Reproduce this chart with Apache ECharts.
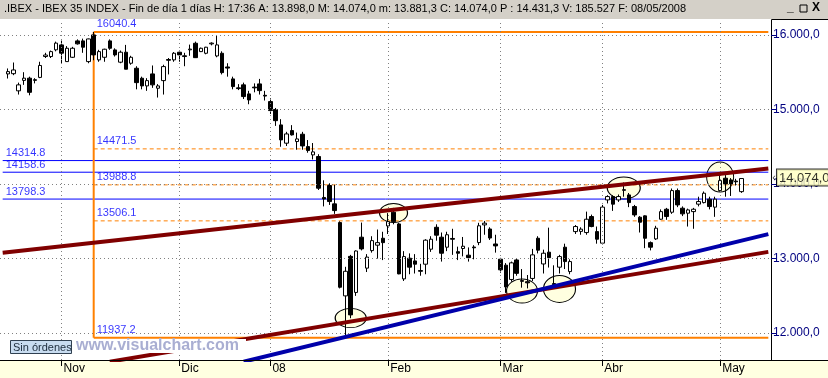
<!DOCTYPE html>
<html>
<head>
<meta charset="utf-8">
<script src="https://cdn.jsdelivr.net/npm/echarts@6/dist/echarts.min.js"></script>
<style>
html,body{margin:0;padding:0;background:#fff;}
#main{width:828px;height:378px;}
</style>
</head>
<body>
<div id="main"></div>
<script>
// IBEX 35, velas diarias 18/10/2007 - 08/05/2008
var opens = [15477,15480,15250,15390,15420,15390,15430,15710,15710,15800,
  15866,15642,15700,15920,15920,15642,16000,15665,15700,15920,
  15799,15634,15768,15620,15553,15419,15316,15477,15285,15387,
  15670,15665,15768,15720,15800,15888,15776,15754,15880,15718,
  15754,15570,15410,15290,15330,15209,15300,15343,15190,15106,
  15000,14793,14548,14717,14570,14668,14502,14391,14369,13820,
  13980,13734,13483,12500,13030,12546,13287,12872,13107,13180,
  13273,13438,13622,13465,12728,13005,12969,12840,12925,13126,
  13420,13287,13153,13270,13093,13135,13046,13155,13215,13452,
  13397,13196,12992,12912,12720,12982,12705,12690,12734,13273,
  12928,13086,12665,12885,13153,12826,13362,13365,13349,13564,
  13362,13207,13787,13832,13787,13915,13854,13698,13555,13573,
  13214,13264,13528,13662,13622,13912,13676,13609,13630,13730,
  13751,13797,13690,13912,14078,14055,14040,13898];
var closes = [15508,15530,15330,15420,15230,15400,15590,15730,15776,15890,
  15755,15821,15821,15880,15835,15946,15732,15776,15808,15821,
  15732,15768,15540,15700,15360,15316,15387,15330,15316,15575,
  15660,15754,15732,15710,15810,15695,15821,15835,15890,15866,
  15494,15555,15307,15280,15173,15128,15290,15253,15180,14985,
  14850,14592,14672,14659,14605,14511,14449,14431,13944,13800,
  13765,13644,12616,12830,12245,13102,13130,13020,13241,13214,
  13214,13496,13496,12795,13027,12885,12925,12830,13247,13260,
  13314,13072,13320,13260,13072,13166,13013,13145,13440,13475,
  13276,13170,12849,12620,12943,12802,12695,12675,13050,13113,
  13072,13013,12650,13027,12960,12960,13430,13395,13528,13430,
  13260,13690,13832,13730,13832,13925,13751,13586,13488,13273,
  13153,13408,13630,13564,13912,13720,13600,13653,13662,13765,
  13877,13698,13797,14046,14002,14002,14030,14074];
var lows = [15415,15460,15200,15330,15190,15350,15420,15690,15690,15780,
  15620,15640,15690,15870,15760,15620,15660,15640,15640,15800,
  15710,15620,15540,15600,15270,15270,15250,15290,15160,15200,
  15470,15640,15640,15580,15720,15690,15770,15740,15860,15700,
  15470,15440,15270,15260,15140,15070,15230,15200,15120,14940,
  14780,14500,14510,14650,14460,14460,14420,14330,13920,13700,
  13720,13600,12600,11937.2,12200,12500,13110,12820,13080,13000,
  12980,13330,13460,12790,12700,12790,12800,12770,12790,13090,
  13240,12960,13100,13050,12980,13030,12960,12990,13180,13320,
  13250,13080,12810,12540,12690,12770,12610,12600,12700,13070,
  12800,12880,12620,12800,12860,12790,13330,13320,13320,13420,
  13200,13190,13740,13640,13760,13830,13690,13560,13350,13140,
  13110,13250,13520,13520,13600,13690,13570,13430,13400,13700,
  13740,13660,13560,13900,13830,13840,13980,13881.3];
var highs = [15550,15630,15360,15500,15440,15420,15640,15760,15790,15910,
  15924,15850,15840,15940,15950,15950,16040.4,15800,15815,15940,
  15820,15790,15866,15720,15580,15440,15420,15590,15340,15600,
  15690,15770,15790,15760,15870,15910,15830,15840,15900,15990,
  15780,15620,15440,15340,15360,15250,15350,15410,15250,15150,
  15020,14870,14700,14790,14690,14700,14590,14550,14400,14050,
  14010,13990,13500,12890,13050,13110,13483,13060,13300,13390,
  13360,13610,13680,13480,13100,13070,13060,12930,13260,13300,
  13460,13350,13360,13400,13160,13290,13150,13180,13480,13505,
  13420,13320,13010,12940,12960,13000,12860,12780,13130,13300,
  13120,13415,12910,13050,13200,12990,13450,13420,13630,13590,
  13430,13720,13850,13850,13860,14020,13880,13720,13570,13580,
  13230,13440,13660,13680,13940,13940,13700,13670,13680,13830,
  13900,13830,13830,14150,14120,14080,14070,14074];

// primer dia de cada mes (indice de vela) y su rotulo
var monthBars = [10, 32, 49, 71, 92, 111, 133];
var monthLabels = ['Nov', 'Dic', '08', 'Feb', 'Mar', 'Abr', 'May'];
var yTicks = [12000, 13000, 14000, 15000, 16000];

// niveles horizontales
var blueLevels = [14314.8, 14158.6, 13798.3];
var fibLevels = [16040.4, 14471.5, 13988.8, 13506.1, 11937.2];
var fibBar = 16;

// lineas de tendencia [vela, precio]
var upperRed = [[-1, 13079], [142, 14208]];
var lowerRed = [[19, 11617], [142, 13090]];
var blueTrend = [[44, 11617], [142, 13328]];

// circulos de marca
var circleBars = [64, 72, 96, 103, 115, 133];
var circlePrices = [12204, 13612, 12566, 12593, 13947, 14095];

var lastPrice = 14074.0;

var FONT = 'Arial, "Liberation Sans", sans-serif';
var PAD_L = 1, PAD_R = 5;

function fmtEs(v) {
    var p = v.toFixed(1).split('.');
    return p[0].replace(/\B(?=(\d{3})+(?!\d))/g, '.') + ',' + p[1];
}
function cat(bar) { return bar + PAD_L; }

var nCat = PAD_L + opens.length + PAD_R;
var cats = [];
var candles = [];
for (var i = 0; i < nCat; i++) {
    cats.push(String(i));
    var b = i - PAD_L;
    if (b >= 0 && b < opens.length) {
        candles.push([opens[b], closes[b], lows[b], highs[b]]);
    } else {
        candles.push('-');
    }
}
var lastCat = nCat - 1;
var monthCats = monthBars.map(cat);

function tl(pts) {
    return pts.map(function (p) { return [cat(p[0]), p[1]]; });
}

var series = [];

// rejilla punteada
series.push({
    type: 'line', data: [], z: 1, silent: true,
    markLine: {
        silent: true, symbol: ['none', 'none'], animation: false,
        label: {show: false},
        lineStyle: {color: '#808080', type: [1, 3], width: 1},
        data: monthCats.map(function (c) { return {xAxis: String(c)}; })
            .concat(yTicks.map(function (v) { return {yAxis: v}; }))
    }
});

// circulos
var circleSizes = [[31, 19], [28, 19], [31, 24], [32, 27], [33, 22], [27, 30]];
series.push({
    type: 'scatter', z: 2, silent: true,
    symbol: 'circle',
    data: circleBars.map(function (b, k) {
        return {value: [cat(b), circlePrices[k]], symbolSize: circleSizes[k]};
    }),
    itemStyle: {color: '#ffffe0', borderColor: '#000', borderWidth: 1, opacity: 1}
});

// niveles azules
blueLevels.forEach(function (v) {
    series.push({
        type: 'line', z: 3, silent: true, symbol: 'none',
        data: [[0, v], [lastCat, v]],
        lineStyle: {color: '#0000ff', width: 1}
    });
});

// fibonacci
fibLevels.forEach(function (v, k) {
    var solid = (k === 0 || k === fibLevels.length - 1);
    series.push({
        type: 'line', z: 3, silent: true, symbol: 'none',
        data: [[cat(fibBar), v], [lastCat, v]],
        lineStyle: {color: '#ff8000', width: solid ? 2 : 1, type: solid ? 'solid' : [4, 3]}
    });
});
series.push({
    type: 'line', z: 3, silent: true, symbol: 'none',
    data: [[cat(fibBar), fibLevels[0]], [cat(fibBar), fibLevels[fibLevels.length - 1]]],
    lineStyle: {color: '#ff8000', width: 2}
});

// rotulos de niveles
var lvlLabels = blueLevels.map(function (v) { return [0, v]; })
    .concat(fibLevels.map(function (v) { return [cat(fibBar), v]; }));
series.push({
    type: 'scatter', z: 6, silent: true, symbolSize: 0,
    data: lvlLabels,
    label: {
        show: true, position: [3, -13],
        formatter: function (p) { return p.value[1].toFixed(1); },
        color: '#0000ff', fontSize: 11, fontFamily: FONT
    }
});

// velas
series.push({
    type: 'candlestick', z: 4, barWidth: 4,
    data: candles,
    itemStyle: {
        color: '#ffffff', color0: '#000000',
        borderColor: '#000000', borderColor0: '#000000', borderWidth: 1
    }
});

// lineas de tendencia
[[upperRed, '#800000'], [lowerRed, '#800000'], [blueTrend, '#0000aa']].forEach(function (t) {
    series.push({
        type: 'line', z: 5, silent: true, symbol: 'none', clip: true,
        data: tl(t[0]),
        lineStyle: {color: t[1], width: 4}
    });
});

// etiqueta del ultimo precio
series.push({
    type: 'scatter', z: 10, silent: true, symbolSize: 0, clip: false,
    data: [[lastCat, lastPrice]],
    label: {
        show: true, position: [4, -9],
        formatter: '{a|\u2039}{b|' + fmtEs(lastPrice) + '}',
        rich: {
            a: {fontSize: 11, color: '#000', fontFamily: FONT, padding: [0, 1, 0, 0]},
            b: {fontSize: 13, color: '#000', fontFamily: FONT, backgroundColor: '#ffffc0',
                borderColor: '#000', borderWidth: 1, padding: [2, 2, 1, 2]}
        }
    }
});

var titleText = '{k|.IBEX - IBEX 35 INDEX - Fin de día 1 días H: }{v|17:36}{k| A: }{v|13.898,0}' +
    '{k| M: }{v|14.074,0}{k| m: }{v|13.881,3}{k| C: }{v|14.074,0}{r| P : 14.431,3}' +
    '{k| V: }{v|185.527}{k| F: }{v|08/05/2008}';

var myChart = echarts.init(document.getElementById('main'));
var option = {
    animation: false,
    backgroundColor: '#ffffff',
    grid: {left: 0, right: 57, top: 20, bottom: 18, containLabel: false, outerBoundsMode: 'none'},
    xAxis: {
        type: 'category', data: cats, boundaryGap: true,
        axisLine: {show: true, lineStyle: {color: '#000', width: 1}},
        axisTick: {
            show: true, alignWithLabel: true, length: 6,
            interval: function (idx) { return monthCats.indexOf(idx) >= 0; },
            lineStyle: {color: '#000'}
        },
        axisLabel: {
            interval: function (idx) { return monthCats.indexOf(idx) >= 0; },
            formatter: function (val, idx) {
                var k = monthCats.indexOf(Number(val));
                return k >= 0 ? monthLabels[k] : '';
            },
            align: 'left', margin: 3, padding: [0, 0, 0, 2],
            color: '#000', fontSize: 12, fontFamily: FONT
        },
        splitLine: {show: false}
    },
    yAxis: {
        type: 'value', position: 'right', min: 11640, max: 16200, scale: true,
        axisLine: {show: true, lineStyle: {color: '#000', width: 1}},
        axisTick: {show: true, length: 5, customValues: yTicks, lineStyle: {color: '#000080'}},
        axisLabel: {
            customValues: yTicks, margin: 2,
            formatter: function (v) { return fmtEs(v); },
            color: '#000080', fontSize: 12, fontFamily: FONT
        },
        splitLine: {show: false}
    },
    graphic: [
        {type: 'rect', z: -10, shape: {x: 0, y: 0, width: 828, height: 19}, style: {fill: '#d4d0c8'}},
        {type: 'rect', z: -10, shape: {x: 0, y: 360, width: 828, height: 18}, style: {fill: '#ffffe1'}},
        {type: 'line', z: 20, shape: {x1: 0, y1: 360.5, x2: 828, y2: 360.5}, style: {stroke: '#000', lineWidth: 1}},
        {type: 'line', z: 20, shape: {x1: 771.5, y1: 19.5, x2: 828, y2: 19.5}, style: {stroke: '#000', lineWidth: 1}},
        {
            type: 'text', z: 20, x: 4, y: 3,
            style: {
                text: titleText,
                rich: {
                    k: {fontSize: 11, color: '#000', fontFamily: FONT},
                    v: {fontSize: 11, color: '#000080', fontFamily: FONT},
                    r: {fontSize: 11, color: '#ff0000', fontFamily: FONT}
                }
            }
        },
        {type: 'text', z: 20, x: 787, y: 2, style: {text: '_', fontSize: 12, fontWeight: 'bold', fill: '#000', fontFamily: FONT}},
        {type: 'rect', z: 20, shape: {x: 800, y: 5, width: 7, height: 7}, style: {fill: 'none', stroke: '#000', lineWidth: 1}},
        {type: 'text', z: 20, x: 812, y: 2, style: {text: 'X', fontSize: 12, fontWeight: 'bold', fill: '#000', fontFamily: FONT}},
        {type: 'rect', z: 50, shape: {x: 75, y: 339, width: 171, height: 14}, style: {fill: '#ffffff'}},
        {
            type: 'text', z: 51, x: 76, y: 346,
            style: {
                text: 'www.visualchart.com', fontSize: 16, fontWeight: 'bold',
                fill: '#a9aed2', fontFamily: FONT, verticalAlign: 'middle'
            }
        },
        {type: 'rect', z: 51, shape: {x: 10.5, y: 340.5, width: 61, height: 13}, style: {fill: '#c8dcf0', stroke: '#304050', lineWidth: 1}},
        {
            type: 'text', z: 52, x: 13, y: 347.5,
            style: {text: 'Sin órdenes', fontSize: 11, fill: '#203040', fontFamily: FONT, verticalAlign: 'middle'}
        }
    ],
    series: series
};
myChart.setOption(option);
</script>
</body>
</html>
